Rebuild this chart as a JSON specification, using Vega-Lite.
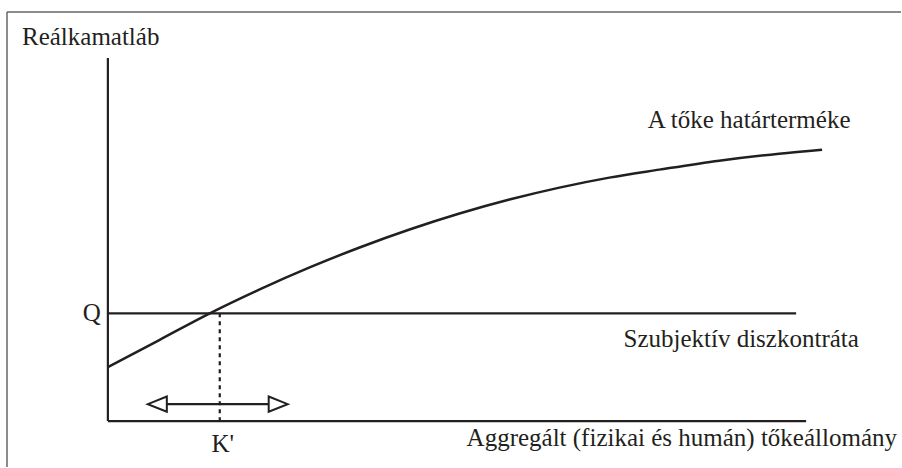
{
  "$schema": "https://vega.github.io/schema/vega-lite/v6.json",
  "width": 902,
  "height": 468,
  "padding": 0,
  "autosize": {"type": "fit", "contains": "padding"},
  "background": "white",
  "config": {"view": {"stroke": null}},
  "datasets": {
    "curve": [
      {"K": 0, "r": 54},
      {"K": 51, "r": 81},
      {"K": 102, "r": 108},
      {"K": 152, "r": 132},
      {"K": 202, "r": 154},
      {"K": 252, "r": 174},
      {"K": 302, "r": 192},
      {"K": 352, "r": 208},
      {"K": 402, "r": 222},
      {"K": 452, "r": 234},
      {"K": 502, "r": 244},
      {"K": 552, "r": 252},
      {"K": 612, "r": 261},
      {"K": 672, "r": 268},
      {"K": 715, "r": 272}
    ],
    "segments": [
      {"kind": "frame", "K": -101, "r": 410, "K2": 794, "r2": 410},
      {"kind": "frame", "K": -101, "r": 410, "K2": -101, "r2": -46},
      {"kind": "axis", "K": 0, "r": 364, "K2": 0, "r2": 0},
      {"kind": "axis", "K": 0, "r": 0, "K2": 699, "r2": 0},
      {"kind": "axis", "K": 0, "r": 108, "K2": 689, "r2": 108},
      {"kind": "axis", "K": 59, "r": 17, "K2": 161, "r2": 17},
      {"kind": "dotted", "K": 112, "r": 108, "K2": 112, "r2": 0}
    ],
    "heads": [
      {"dir": "left", "K": 49.5, "r": 17},
      {"dir": "right", "K": 170.5, "r": 17}
    ],
    "labels": [
      {"align": "left", "text": "Reálkamatláb", "K": -86, "r": 377},
      {"align": "center", "text": "A tőke határterméke", "K": 642, "r": 294},
      {"align": "center", "text": "Szubjektív diszkontráta", "K": 634, "r": 74},
      {"align": "center", "text": "K'", "K": 115, "r": -31},
      {"align": "right", "text": "Q", "K": -7, "r": 100},
      {"align": "right", "text": "Aggregált (fizikai és humán) tőkeállomány", "K": 790, "r": -25}
    ]
  },
  "encoding": {
    "x": {"field": "K", "type": "quantitative", "scale": {"domain": [-108, 794], "nice": false, "zero": false}, "axis": null},
    "y": {"field": "r", "type": "quantitative", "scale": {"domain": [-46, 422], "nice": false, "zero": false}, "axis": null}
  },
  "layer": [
    {
      "data": {"name": "segments"},
      "transform": [{"filter": "datum.kind === 'frame'"}],
      "mark": {"type": "rule", "stroke": "#666666", "strokeWidth": 1.5},
      "encoding": {"x2": {"field": "K2"}, "y2": {"field": "r2"}}
    },
    {
      "data": {"name": "segments"},
      "transform": [{"filter": "datum.kind === 'axis'"}],
      "mark": {"type": "rule", "stroke": "#231f20", "strokeWidth": 2.2},
      "encoding": {"x2": {"field": "K2"}, "y2": {"field": "r2"}}
    },
    {
      "data": {"name": "segments"},
      "transform": [{"filter": "datum.kind === 'dotted'"}],
      "mark": {"type": "rule", "stroke": "#231f20", "strokeWidth": 2.2, "strokeDash": [4, 4]},
      "encoding": {"x2": {"field": "K2"}, "y2": {"field": "r2"}}
    },
    {
      "data": {"name": "curve"},
      "mark": {"type": "line", "stroke": "#231f20", "strokeWidth": 2.5, "interpolate": "monotone"},
      "encoding": {}
    },
    {
      "data": {"name": "heads"},
      "mark": {"type": "point", "filled": false, "stroke": "#231f20", "strokeWidth": 2, "size": 361, "opacity": 1},
      "encoding": {
        "shape": {"field": "dir", "type": "nominal", "legend": null,
          "scale": {"domain": ["left", "right"], "range": ["M1,-0.8L-1,0L1,0.8Z", "M-1,-0.8L1,0L-1,0.8Z"]}}
      }
    },
    {
      "data": {"name": "labels"},
      "transform": [{"filter": "datum.align === 'left'"}],
      "mark": {"type": "text", "align": "left", "baseline": "alphabetic", "font": "Liberation Serif", "fontSize": 25, "color": "#231f20"},
      "encoding": {"text": {"field": "text"}}
    },
    {
      "data": {"name": "labels"},
      "transform": [{"filter": "datum.align === 'center'"}],
      "mark": {"type": "text", "align": "center", "baseline": "alphabetic", "font": "Liberation Serif", "fontSize": 25, "color": "#231f20"},
      "encoding": {"text": {"field": "text"}}
    },
    {
      "data": {"name": "labels"},
      "transform": [{"filter": "datum.align === 'right'"}],
      "mark": {"type": "text", "align": "right", "baseline": "alphabetic", "font": "Liberation Serif", "fontSize": 25, "color": "#231f20"},
      "encoding": {"text": {"field": "text"}}
    }
  ]
}
